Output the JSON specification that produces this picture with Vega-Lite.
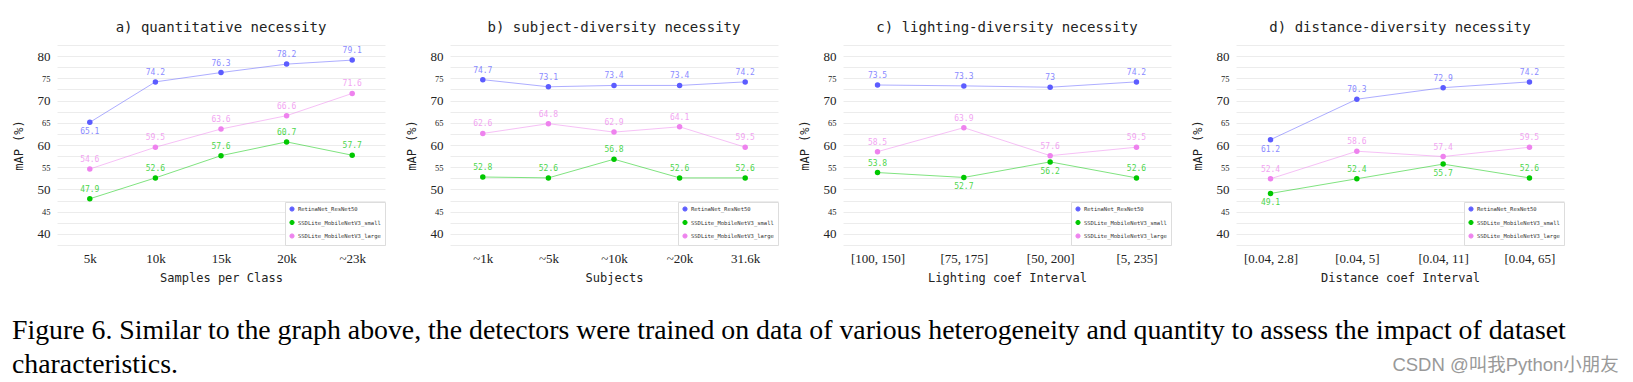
{
  "$schema": "https://vega.github.io/schema/vega-lite/v6.json",
  "background": "white",
  "padding": {"left": 12, "top": 21, "right": 5, "bottom": 2},
  "title": {"text": "CSDN @叫我Python小朋友", "orient": "bottom", "anchor": "end", "frame": "bounds", "font": "Liberation Sans, Noto Sans CJK SC", "fontSize": 18.5, "fontWeight": "normal", "color": "#999999", "dx": 53, "dy": -22, "offset": 0},
  "config": {
    "view": {"stroke": null},
    "title": {"font": "DejaVu Sans Mono", "fontSize": 14, "fontWeight": "normal", "color": "#222222", "offset": 10},
    "axis": {"domain": false, "ticks": false, "labelFont": "Liberation Serif", "labelColor": "#222222", "titleFont": "DejaVu Sans Mono", "titleFontWeight": "normal", "titleFontSize": 12, "titleColor": "#222222", "gridColor": "#ececec", "gridWidth": 1},
    "axisX": {"grid": false, "labelFontSize": 13, "labelPadding": 7, "titlePadding": 7, "labelAngle": 0},
    "axisY": {"grid": true, "labelPadding": 7, "titlePadding": 12},
    "legend": {"orient": "bottom-right", "offset": 0, "padding": 4, "strokeColor": "#dddddd", "fillColor": "white", "labelFont": "DejaVu Sans Mono", "labelFontSize": 5.5, "labelColor": "#333333", "symbolType": "circle", "symbolSize": 18, "symbolStrokeWidth": 0, "symbolOpacity": 1, "rowPadding": 3.5, "labelOffset": 3, "titleFontSize": 0, "title": null},
    "line": {"strokeWidth": 1, "opacity": 0.5},
    "point": {"filled": true, "size": 30, "opacity": 1},
    "text": {"font": "DejaVu Sans Mono", "fontSize": 8, "opacity": 0.72, "baseline": "middle", "align": "center"}
  },
  "vconcat": [
    {
      "title": {"text": ["Figure 6. Similar to the graph above, the detectors were trained on data of various heterogeneity and quantity to assess the impact of dataset", "characteristics."], "orient": "bottom", "anchor": "start", "frame": "bounds", "font": "Liberation Serif", "fontSize": 27.8, "fontWeight": "normal", "color": "#000000", "lineHeight": 33.5, "offset": 34, "dx": 0},
      "bounds": "flush",
      "spacing": 65,
      "resolve": {"scale": {"x": "independent", "y": "independent", "color": "independent"}, "legend": {"color": "independent"}},
      "hconcat": [
        {
          "title": "a) quantitative necessity",
          "width": 328, "height": 200,
          "data": {"values": [
            {"model": "RetinaNet_ResNet50", "level": "5k", "mAP": 65.1},
            {"model": "RetinaNet_ResNet50", "level": "10k", "mAP": 74.2},
            {"model": "RetinaNet_ResNet50", "level": "15k", "mAP": 76.3},
            {"model": "RetinaNet_ResNet50", "level": "20k", "mAP": 78.2},
            {"model": "RetinaNet_ResNet50", "level": "~23k", "mAP": 79.1},
            {"model": "SSDLite_MobileNetV3_small", "level": "5k", "mAP": 47.9},
            {"model": "SSDLite_MobileNetV3_small", "level": "10k", "mAP": 52.6},
            {"model": "SSDLite_MobileNetV3_small", "level": "15k", "mAP": 57.6},
            {"model": "SSDLite_MobileNetV3_small", "level": "20k", "mAP": 60.7},
            {"model": "SSDLite_MobileNetV3_small", "level": "~23k", "mAP": 57.7},
            {"model": "SSDLite_MobileNetV3_large", "level": "5k", "mAP": 54.6},
            {"model": "SSDLite_MobileNetV3_large", "level": "10k", "mAP": 59.5},
            {"model": "SSDLite_MobileNetV3_large", "level": "15k", "mAP": 63.6},
            {"model": "SSDLite_MobileNetV3_large", "level": "20k", "mAP": 66.6},
            {"model": "SSDLite_MobileNetV3_large", "level": "~23k", "mAP": 71.6}
          ]},
          "encoding": {
            "x": {"field": "level", "type": "ordinal", "sort": null, "scale": {"type": "point", "padding": 0.5}, "axis": {"title": "Samples per Class"}},
            "y": {"field": "mAP", "type": "quantitative", "scale": {"domain": [37.5, 82.5], "nice": false, "zero": false}, "axis": {"title": "mAP (%)", "values": [37.5, 40, 42.5, 45, 47.5, 50, 52.5, 55, 57.5, 60, 62.5, 65, 67.5, 70, 72.5, 75, 77.5, 80, 82.5], "labelExpr": "datum.value % 5 === 0 ? datum.label : ''", "labelFontSize": {"condition": {"test": "datum.value % 10 === 0", "value": 13}, "value": 8.5}}},
            "color": {"field": "model", "type": "nominal", "scale": {"domain": ["RetinaNet_ResNet50", "SSDLite_MobileNetV3_small", "SSDLite_MobileNetV3_large"], "range": ["#5c5cff", "#00c800", "#ee82ee"]}}
          },
          "layer": [
            {"mark": "line"},
            {"mark": "point"},
            {"transform": [{"filter": "!(datum.model === 'RetinaNet_ResNet50' && datum.level === '5k')"}], "mark": {"type": "text", "dy": -9}, "encoding": {"text": {"field": "mAP", "type": "quantitative"}}},
            {"transform": [{"filter": "datum.model === 'RetinaNet_ResNet50' && datum.level === '5k'"}], "mark": {"type": "text", "dy": 10}, "encoding": {"text": {"field": "mAP", "type": "quantitative"}}}
          ]
        },
        {
          "title": "b) subject-diversity necessity",
          "width": 328, "height": 200,
          "data": {"values": [
            {"model": "RetinaNet_ResNet50", "level": "~1k", "mAP": 74.7},
            {"model": "RetinaNet_ResNet50", "level": "~5k", "mAP": 73.1},
            {"model": "RetinaNet_ResNet50", "level": "~10k", "mAP": 73.4},
            {"model": "RetinaNet_ResNet50", "level": "~20k", "mAP": 73.4},
            {"model": "RetinaNet_ResNet50", "level": "31.6k", "mAP": 74.2},
            {"model": "SSDLite_MobileNetV3_small", "level": "~1k", "mAP": 52.8},
            {"model": "SSDLite_MobileNetV3_small", "level": "~5k", "mAP": 52.6},
            {"model": "SSDLite_MobileNetV3_small", "level": "~10k", "mAP": 56.8},
            {"model": "SSDLite_MobileNetV3_small", "level": "~20k", "mAP": 52.6},
            {"model": "SSDLite_MobileNetV3_small", "level": "31.6k", "mAP": 52.6},
            {"model": "SSDLite_MobileNetV3_large", "level": "~1k", "mAP": 62.6},
            {"model": "SSDLite_MobileNetV3_large", "level": "~5k", "mAP": 64.8},
            {"model": "SSDLite_MobileNetV3_large", "level": "~10k", "mAP": 62.9},
            {"model": "SSDLite_MobileNetV3_large", "level": "~20k", "mAP": 64.1},
            {"model": "SSDLite_MobileNetV3_large", "level": "31.6k", "mAP": 59.5}
          ]},
          "encoding": {
            "x": {"field": "level", "type": "ordinal", "sort": null, "scale": {"type": "point", "padding": 0.5}, "axis": {"title": "Subjects"}},
            "y": {"field": "mAP", "type": "quantitative", "scale": {"domain": [37.5, 82.5], "nice": false, "zero": false}, "axis": {"title": "mAP (%)", "values": [37.5, 40, 42.5, 45, 47.5, 50, 52.5, 55, 57.5, 60, 62.5, 65, 67.5, 70, 72.5, 75, 77.5, 80, 82.5], "labelExpr": "datum.value % 5 === 0 ? datum.label : ''", "labelFontSize": {"condition": {"test": "datum.value % 10 === 0", "value": 13}, "value": 8.5}}},
            "color": {"field": "model", "type": "nominal", "scale": {"domain": ["RetinaNet_ResNet50", "SSDLite_MobileNetV3_small", "SSDLite_MobileNetV3_large"], "range": ["#5c5cff", "#00c800", "#ee82ee"]}}
          },
          "layer": [
            {"mark": "line"},
            {"mark": "point"},
            {"mark": {"type": "text", "dy": -9}, "encoding": {"text": {"field": "mAP", "type": "quantitative"}}}
          ]
        },
        {
          "title": "c) lighting-diversity necessity",
          "width": 328, "height": 200,
          "data": {"values": [
            {"model": "RetinaNet_ResNet50", "level": "[100, 150]", "mAP": 73.5},
            {"model": "RetinaNet_ResNet50", "level": "[75, 175]", "mAP": 73.3},
            {"model": "RetinaNet_ResNet50", "level": "[50, 200]", "mAP": 73},
            {"model": "RetinaNet_ResNet50", "level": "[5, 235]", "mAP": 74.2},
            {"model": "SSDLite_MobileNetV3_small", "level": "[100, 150]", "mAP": 53.8},
            {"model": "SSDLite_MobileNetV3_small", "level": "[75, 175]", "mAP": 52.7},
            {"model": "SSDLite_MobileNetV3_small", "level": "[50, 200]", "mAP": 56.2},
            {"model": "SSDLite_MobileNetV3_small", "level": "[5, 235]", "mAP": 52.6},
            {"model": "SSDLite_MobileNetV3_large", "level": "[100, 150]", "mAP": 58.5},
            {"model": "SSDLite_MobileNetV3_large", "level": "[75, 175]", "mAP": 63.9},
            {"model": "SSDLite_MobileNetV3_large", "level": "[50, 200]", "mAP": 57.6},
            {"model": "SSDLite_MobileNetV3_large", "level": "[5, 235]", "mAP": 59.5}
          ]},
          "encoding": {
            "x": {"field": "level", "type": "ordinal", "sort": null, "scale": {"type": "point", "padding": 0.4}, "axis": {"title": "Lighting coef Interval"}},
            "y": {"field": "mAP", "type": "quantitative", "scale": {"domain": [37.5, 82.5], "nice": false, "zero": false}, "axis": {"title": "mAP (%)", "values": [37.5, 40, 42.5, 45, 47.5, 50, 52.5, 55, 57.5, 60, 62.5, 65, 67.5, 70, 72.5, 75, 77.5, 80, 82.5], "labelExpr": "datum.value % 5 === 0 ? datum.label : ''", "labelFontSize": {"condition": {"test": "datum.value % 10 === 0", "value": 13}, "value": 8.5}}},
            "color": {"field": "model", "type": "nominal", "scale": {"domain": ["RetinaNet_ResNet50", "SSDLite_MobileNetV3_small", "SSDLite_MobileNetV3_large"], "range": ["#5c5cff", "#00c800", "#ee82ee"]}}
          },
          "layer": [
            {"mark": "line"},
            {"mark": "point"},
            {"transform": [{"filter": "!(datum.model === 'SSDLite_MobileNetV3_small' && (datum.level === '[75, 175]' || datum.level === '[50, 200]'))"}], "mark": {"type": "text", "dy": -9}, "encoding": {"text": {"field": "mAP", "type": "quantitative"}}},
            {"transform": [{"filter": "datum.model === 'SSDLite_MobileNetV3_small' && (datum.level === '[75, 175]' || datum.level === '[50, 200]')"}], "mark": {"type": "text", "dy": 10}, "encoding": {"text": {"field": "mAP", "type": "quantitative"}}}
          ]
        },
        {
          "title": "d) distance-diversity necessity",
          "width": 328, "height": 200,
          "data": {"values": [
            {"model": "RetinaNet_ResNet50", "level": "[0.04, 2.8]", "mAP": 61.2},
            {"model": "RetinaNet_ResNet50", "level": "[0.04, 5]", "mAP": 70.3},
            {"model": "RetinaNet_ResNet50", "level": "[0.04, 11]", "mAP": 72.9},
            {"model": "RetinaNet_ResNet50", "level": "[0.04, 65]", "mAP": 74.2},
            {"model": "SSDLite_MobileNetV3_small", "level": "[0.04, 2.8]", "mAP": 49.1},
            {"model": "SSDLite_MobileNetV3_small", "level": "[0.04, 5]", "mAP": 52.4},
            {"model": "SSDLite_MobileNetV3_small", "level": "[0.04, 11]", "mAP": 55.7},
            {"model": "SSDLite_MobileNetV3_small", "level": "[0.04, 65]", "mAP": 52.6},
            {"model": "SSDLite_MobileNetV3_large", "level": "[0.04, 2.8]", "mAP": 52.4},
            {"model": "SSDLite_MobileNetV3_large", "level": "[0.04, 5]", "mAP": 58.6},
            {"model": "SSDLite_MobileNetV3_large", "level": "[0.04, 11]", "mAP": 57.4},
            {"model": "SSDLite_MobileNetV3_large", "level": "[0.04, 65]", "mAP": 59.5}
          ]},
          "encoding": {
            "x": {"field": "level", "type": "ordinal", "sort": null, "scale": {"type": "point", "padding": 0.4}, "axis": {"title": "Distance coef Interval"}},
            "y": {"field": "mAP", "type": "quantitative", "scale": {"domain": [37.5, 82.5], "nice": false, "zero": false}, "axis": {"title": "mAP (%)", "values": [37.5, 40, 42.5, 45, 47.5, 50, 52.5, 55, 57.5, 60, 62.5, 65, 67.5, 70, 72.5, 75, 77.5, 80, 82.5], "labelExpr": "datum.value % 5 === 0 ? datum.label : ''", "labelFontSize": {"condition": {"test": "datum.value % 10 === 0", "value": 13}, "value": 8.5}}},
            "color": {"field": "model", "type": "nominal", "scale": {"domain": ["RetinaNet_ResNet50", "SSDLite_MobileNetV3_small", "SSDLite_MobileNetV3_large"], "range": ["#5c5cff", "#00c800", "#ee82ee"]}}
          },
          "layer": [
            {"mark": "line"},
            {"mark": "point"},
            {"transform": [{"filter": "!((datum.model === 'RetinaNet_ResNet50' && datum.level === '[0.04, 2.8]') || (datum.model === 'SSDLite_MobileNetV3_small' && (datum.level === '[0.04, 2.8]' || datum.level === '[0.04, 11]')))"}], "mark": {"type": "text", "dy": -9}, "encoding": {"text": {"field": "mAP", "type": "quantitative"}}},
            {"transform": [{"filter": "(datum.model === 'RetinaNet_ResNet50' && datum.level === '[0.04, 2.8]') || (datum.model === 'SSDLite_MobileNetV3_small' && (datum.level === '[0.04, 2.8]' || datum.level === '[0.04, 11]'))"}], "mark": {"type": "text", "dy": 10}, "encoding": {"text": {"field": "mAP", "type": "quantitative"}}}
          ]
        }
      ]
    }
  ]
}
